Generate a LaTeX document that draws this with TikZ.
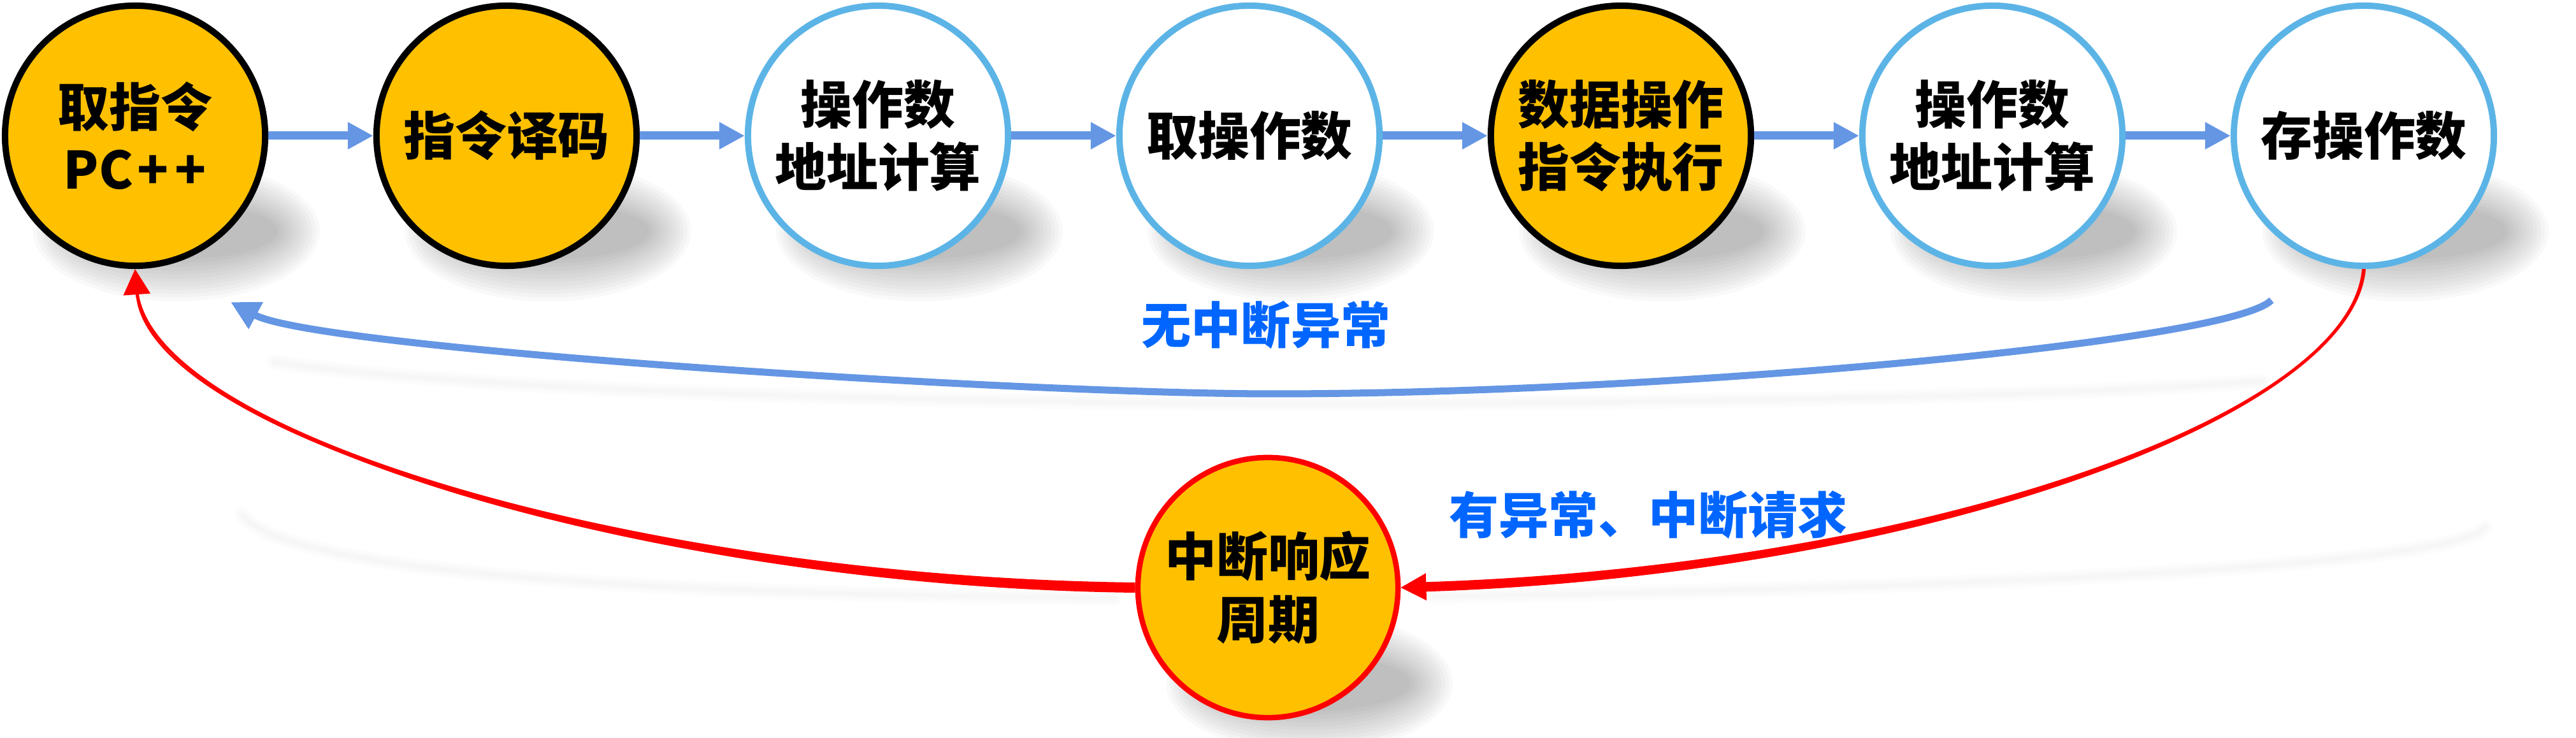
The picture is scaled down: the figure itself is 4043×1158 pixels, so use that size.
\documentclass[tikz,border=0pt]{standalone}
\usepackage{fontspec}
\newfontfamily\cjkb{Noto Sans CJK SC Bold}
\newfontfamily\cjkh{Noto Sans CJK SC Black}
\usetikzlibrary{arrows.meta,calc}
\definecolor{ora}{RGB}{255,192,0}
\definecolor{cir}{RGB}{92,180,230}
\definecolor{arr}{RGB}{100,150,228}
\definecolor{lbl}{RGB}{0,102,255}
\newcommand\softshadow[2]{\foreach \k in {0,...,11}{\fill[black,opacity=0.022] (#1,#2) ellipse ({225-6*\k} and {110-6*\k});}}
\newcommand\taperfill[6]{%
 \fill[red] ($(#1)!#5!90:(#2)$) .. controls ($(#2)!#5!-90:(#1)$) and ($(#3)!#6!90:(#4)$) .. ($(#4)!#6!-90:(#3)$)
 -- ($(#4)!#6!90:(#3)$) .. controls ($(#3)!#6!-90:(#4)$) and ($(#2)!#5!90:(#1)$) .. ($(#1)!#5!-90:(#2)$) -- cycle;}
\begin{document}
\begin{tikzpicture}[x=0.01cm,y=0.01cm,
  stage/.style={circle, minimum size=4.08cm, inner sep=0pt, line width=0.1cm, align=center,
    font=\cjkh\fontsize{23}{28}\selectfont},
  orastage/.style={stage, fill=ora, draw=black},
  bluestage/.style={stage, fill=white, draw=cir},
  redstage/.style={stage, fill=ora, draw=red, line width=0.085cm},
  flow/.style={draw=arr, line width=0.13cm, -{Triangle[length=0.4cm,width=0.4cm]}},
  ret/.style={draw=arr, line width=0.11cm, -{Triangle[length=0.45cm,width=0.45cm]}},
  redarrow/.style={draw=red, line width=0.03cm, -{Triangle[length=0.4cm,width=0.42cm]}},
  lab/.style={text=lbl, font=\cjkh\fontsize{22.2}{26}\selectfont, inner sep=0pt},
  faint/.style={draw=black, opacity=0.012, line cap=round}
]
\useasboundingbox (0,0) rectangle (4043,1158);
% soft shadows of circles
\foreach \cx in {212,795,1378,1961,2544,3127,3710}{\softshadow{\cx+65}{795}}
\softshadow{2055}{86}
% faint shadows of curves
\foreach \w in {0.06cm,0.14cm,0.24cm}{
 \draw[faint, line width=\w] (430,590) .. controls (700,550) and (1300,528) .. (2000,525) .. controls (2800,525) and (3300,540) .. (3550,560);
 \draw[faint, line width=\w] (380,350) .. controls (450,260) and (1000,225) .. (1750,220);
 \draw[faint, line width=\w] (3900,330) .. controls (3850,270) and (3100,235) .. (2250,222);
}
% stages
\node[orastage]  (n1) at (212,945)  {取指令\\PC\kern0.08em+\kern0.12em+};
\node[orastage]  (n2) at (795,945)  {指令译码};
\node[bluestage] (n3) at (1378,945) {操作数\\地址计算};
\node[bluestage] (n4) at (1961,945) {取操作数};
\node[orastage]  (n5) at (2544,945) {数据操作\\指令执行};
\node[bluestage] (n6) at (3127,945) {操作数\\地址计算};
\node[bluestage] (n7) at (3710,945) {存操作数};
\node[redstage]  (n8) at (1990,236) {中断响应\\周期};
% straight flow
\draw[flow] (n1.east) -- (n2.west);
\draw[flow] (n2.east) -- (n3.west);
\draw[flow] (n3.east) -- (n4.west);
\draw[flow] (n4.east) -- (n5.west);
\draw[flow] (n5.east) -- (n6.west);
\draw[flow] (n6.east) -- (n7.west);
% return without interrupt
\coordinate (bs) at (3565,687);
\coordinate (be) at (362,684);
\draw[ret] (bs) .. controls (3500,620) and (2600,540) .. (2000,540) .. controls (1600,540) and (500,610) .. (be);
% to interrupt cycle
\coordinate (r1c1) at (3690,500);
\coordinate (r1c2) at (3000,260);
\coordinate (r1b) at ($(n8.east)!0.3cm!(r1c2)$);
\taperfill{n7.south}{r1c1}{r1c2}{r1b}{0.03cm}{0.075cm}
\draw[redarrow] (n7.south) .. controls (r1c1) and (r1c2) .. (n8.east);
% back to fetch
\coordinate (r2c1) at (1000,245);
\coordinate (r2c2) at (230,480);
\coordinate (r2b) at ($(n1.south)!0.3cm!(r2c2)$);
\taperfill{n8.west}{r2c1}{r2c2}{r2b}{0.08cm}{0.025cm}
\draw[redarrow] (n8.west) .. controls (r2c1) and (r2c2) .. (n1.south);
% labels
\node[lab] (l1) at (1987,648) {无中断异常};
\node[lab] (l2) at (2587,350) {有异常、中断请求};
\end{tikzpicture}
\end{document}
